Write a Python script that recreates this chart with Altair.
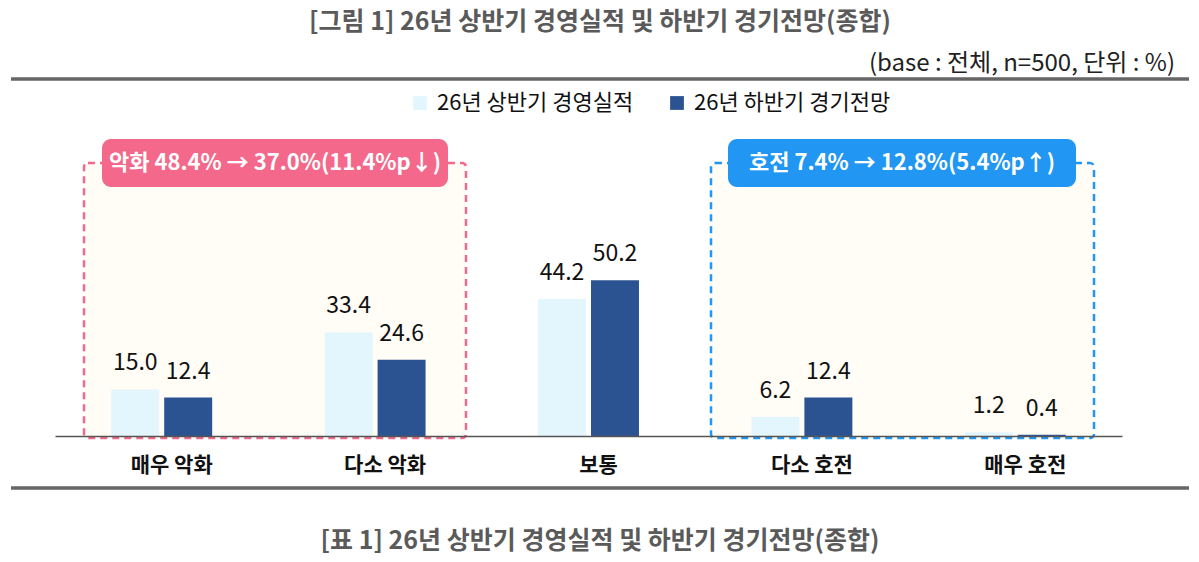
import altair as alt
import pandas as pd

# Survey results: first-half 2026 business performance vs. second-half outlook (%)
categories = ["매우 악화", "다소 악화", "보통", "다소 호전", "매우 호전"]
series = ["26년 상반기 경영실적", "26년 하반기 경기전망"]
first_half = [15.0, 33.4, 44.2, 6.2, 1.2]
second_half = [12.4, 24.6, 50.2, 12.4, 0.4]

title_text = "[그림 1] 26년 상반기 경영실적 및 하반기 경기전망(종합)"
caption_text = "[표 1] 26년 상반기 경영실적 및 하반기 경기전망(종합)"
base_text = "(base : 전체, n=500, 단위 : %)"
worse_text = "악화 48.4% → 37.0%(11.4%p↓)"
better_text = "호전 7.4% → 12.8%(5.4%p↑)"

LIGHT = "#e3f6fd"
DARK = "#2c5391"
PINK = "#f4698b"
BLUE = "#2196f3"
CREAM = "#fffdf6"
FONT = "Noto Sans CJK KR"

W, H = 1067, 273

rows = []
for c, a, b in zip(categories, first_half, second_half):
    rows.append({"category": c, "series": series[0], "value": a})
    rows.append({"category": c, "series": series[1], "value": b})
df = pd.DataFrame(rows)

x_enc = alt.X(
    "category:N",
    sort=categories,
    scale=alt.Scale(paddingInner=0.527, paddingOuter=0.2635),
    axis=alt.Axis(
        title=None,
        labelAngle=0,
        ticks=False,
        labelFontSize=21,
        labelFontWeight="bold",
        labelColor="#111111",
        labelPadding=18,
        labelOffset=10,
        domainColor="#555555",
        domainWidth=1.5,
        zindex=1,
    ),
)
xo_enc = alt.XOffset("series:N", sort=series, scale=alt.Scale(paddingInner=0.094))
y_enc = alt.Y("value:Q", scale=alt.Scale(domain=[0, 88]), axis=None)
color_enc = alt.Color(
    "series:N",
    sort=series,
    scale=alt.Scale(domain=series, range=[LIGHT, DARK]),
    legend=alt.Legend(
        title=None,
        orient="none",
        direction="horizontal",
        legendX=354,
        legendY=-71,
        symbolType="square",
        symbolSize=190,
        symbolStrokeWidth=0,
        labelFontSize=22,
        labelLimit=0,
        labelColor="#111111",
        labelOffset=6,
        columnPadding=32,
    ),
)

base = alt.Chart(df)

# dashed group boxes (drawn behind the bars)
boxes_df = pd.DataFrame([{"k": 0}])
pink_box = alt.Chart(boxes_df).mark_rect(
    fill=CREAM, stroke=PINK, strokeWidth=2.5, strokeDash=[7, 5], cornerRadius=4
).encode(x=alt.value(29), x2=alt.value(411), y=alt.value(0), y2=alt.value(275))
blue_box = alt.Chart(boxes_df).mark_rect(
    fill=CREAM, stroke=BLUE, strokeWidth=2.5, strokeDash=[7, 5], cornerRadius=4
).encode(x=alt.value(656), x2=alt.value(1039), y=alt.value(0), y2=alt.value(275))

bars = base.mark_bar().encode(x=x_enc, xOffset=xo_enc, y=y_enc, color=color_enc)

values = base.mark_text(
    fontSize=23, baseline="alphabetic", dy=-19, color="#111111", font=FONT
).encode(x=x_enc, xOffset=xo_enc, y=y_enc, text=alt.Text("value:Q", format=".1f"))

# group summary badges
pink_badge = alt.Chart(boxes_df).mark_rect(fill=PINK, cornerRadius=9).encode(
    x=alt.value(47), x2=alt.value(393), y=alt.value(-24), y2=alt.value(24)
)
blue_badge = alt.Chart(boxes_df).mark_rect(fill=BLUE, cornerRadius=9).encode(
    x=alt.value(673), x2=alt.value(1021), y=alt.value(-24), y2=alt.value(24)
)
pink_badge_text = alt.Chart(pd.DataFrame({"t": [worse_text]})).mark_text(
    fontSize=22, fontWeight="bold", color="white", baseline="middle", font=FONT
).encode(x=alt.value(220), y=alt.value(0), text="t:N")
blue_badge_text = alt.Chart(pd.DataFrame({"t": [better_text]})).mark_text(
    fontSize=22, fontWeight="bold", color="white", baseline="middle", font=FONT
).encode(x=alt.value(847), y=alt.value(0), text="t:N")

# headings, source note and frame lines
title = alt.Chart(pd.DataFrame({"t": [title_text]})).mark_text(
    fontSize=25, fontWeight="bold", color="#5a5a5a", baseline="middle", font=FONT
).encode(x=alt.value(545), y=alt.value(-141), text="t:N")
note = alt.Chart(pd.DataFrame({"t": [base_text]})).mark_text(
    fontSize=24, color="#222222", baseline="middle", align="right", font=FONT
).encode(x=alt.value(1120), y=alt.value(-99), text="t:N")
caption = alt.Chart(pd.DataFrame({"t": [caption_text]})).mark_text(
    fontSize=25, fontWeight="bold", color="#5a5a5a", baseline="middle", font=FONT
).encode(x=alt.value(545), y=alt.value(378), text="t:N")
top_line = alt.Chart(boxes_df).mark_rule(color="#666666", strokeWidth=3.5).encode(
    x=alt.value(-44), x2=alt.value(1134), y=alt.value(-84)
)
bottom_line = alt.Chart(boxes_df).mark_rule(color="#666666", strokeWidth=3.5).encode(
    x=alt.value(-44), x2=alt.value(1134), y=alt.value(325)
)

chart = (
    alt.layer(
        pink_box, blue_box, bars, values,
        pink_badge, blue_badge, pink_badge_text, blue_badge_text,
        title, note, caption, top_line, bottom_line,
    )
    .properties(
        width=W,
        height=H,
        autosize=alt.AutoSizeParams(type="none"),
        padding={"left": 55, "top": 163, "right": 77, "bottom": 126},
        background="white",
        view=alt.ViewBackground(stroke="transparent", strokeWidth=0),
    )
    .configure_view(strokeWidth=0, stroke="transparent")
    .configure(font=FONT)
)

chart.save("out.html", embed_options={"renderer": "svg", "actions": False})
